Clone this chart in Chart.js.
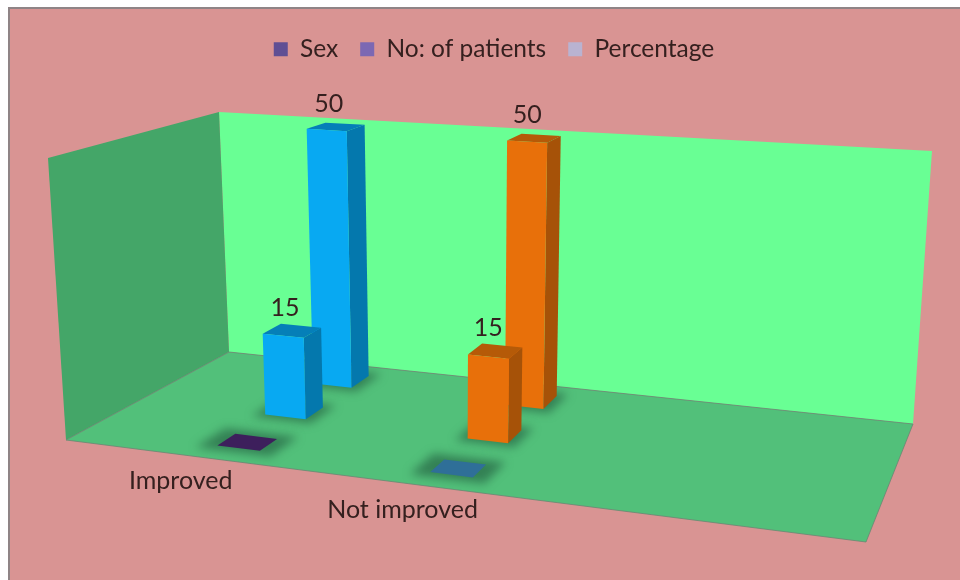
<!DOCTYPE html>
<html>
<head>
<meta charset="utf-8">
<title>Outcome by group</title>
<script src="https://cdn.jsdelivr.net/npm/chart.js@4"></script>
<style>
  html, body { margin: 0; background: #fff; }
  #frame {
    position: absolute; left: 8px; top: 7px; width: 950px; height: 571px;
    background: #d99493; border-left: 2px solid #8f8486; border-top: 2px solid #8f8486;
  }
  #chart { position: absolute; left: 0; top: 0; }
</style>
</head>
<body>
<div id="frame"></div>
<canvas id="chart" width="960" height="580"></canvas>
<script>
const categories = ['Improved', 'Not improved'];
const seriesNames = ['Sex', 'No: of patients', 'Percentage'];
const sexValues = [0, 0];
const patientValues = [15, 15];
const percentValues = [50, 50];
const legendColors = ['#5f4f94', '#7c68b3', '#b9b3d1'];

// front, side and top shade of each category's columns
const columnShades = [
  { front: '#08a9f2', side: '#0478ad', top: '#057fb8' },
  { front: '#e8700a', side: '#a65208', top: '#b55a08' }
];
const sexFloorColors = ['#3d1f5c', '#2f6f98'];

const textColor = '#35201f';

// corners of the 3D room: f/b = front/back, l/r = left/right, 0/1 = floor/ceiling
const room = {
  fl0: [66, 440], fr0: [866, 542], bl0: [229, 352], br0: [913, 424],
  fl1: [48, 158], fr1: [888, 217], bl1: [219, 112], br1: [932, 151]
};

// where the category axis sits along the floor width
const floorStart = 0.0585;
const floorSpan = 0.542;
const columnDepth = 0.125;

function lerp(a, b, t) {
  return [a[0] + (b[0] - a[0]) * t, a[1] + (b[1] - a[1]) * t];
}

// u: left to right, v: floor to ceiling, w: front to back
function project(u, v, w) {
  const f0 = lerp(room.fl0, room.fr0, u);
  const b0 = lerp(room.bl0, room.br0, u);
  const f1 = lerp(room.fl1, room.fr1, u);
  const b1 = lerp(room.bl1, room.br1, u);
  return lerp(lerp(f0, b0, w), lerp(f1, b1, w), v);
}

function fillPoly(ctx, points, color) {
  ctx.beginPath();
  points.forEach((p, i) => (i ? ctx.lineTo(p[0], p[1]) : ctx.moveTo(p[0], p[1])));
  ctx.closePath();
  ctx.fillStyle = color;
  ctx.fill();
}

// turn a bar element of the library into room coordinates
function barBox(chart, bar, datasetIndex) {
  const area = chart.chartArea;
  const u = floorStart + floorSpan * (bar.x - area.left) / area.width;
  const halfU = floorSpan * bar.width / area.width / 2;
  const w = (datasetIndex + 0.5) / 3 + 0.02;
  return {
    u0: u - halfU, u1: u + halfU,
    w0: w - columnDepth / 2, w1: w + columnDepth / 2,
    v: (bar.base - bar.y) / area.height,
    u: u, w: w
  };
}

function drawWalls(ctx) {
  const r = room;
  fillPoly(ctx, [r.bl1, r.br1, r.br0, r.bl0], '#69ff94');
  fillPoly(ctx, [r.fl1, r.bl1, r.bl0, r.fl0], '#44a668');
  fillPoly(ctx, [r.fl0, r.bl0, r.br0, r.fr0], '#52c07a');
  ctx.strokeStyle = 'rgba(105,135,115,0.8)';
  ctx.lineWidth = 1;
  ctx.beginPath();
  [r.fl0, r.fr0, r.br0, r.bl0].forEach((p, i) => (i ? ctx.lineTo(p[0], p[1]) : ctx.moveTo(p[0], p[1])));
  ctx.closePath();
  ctx.stroke();
}

function drawShadow(ctx, b, flat) {
  const mu = flat ? 0.02 : 0.012;
  const mw = flat ? 0.04 : 0.03;
  ctx.save();
  ctx.filter = 'blur(5px)';
  fillPoly(ctx, [
    project(b.u0 - mu, 0, b.w0 - mw), project(b.u1 + mu, 0, b.w0 - mw),
    project(b.u1 + mu, 0, b.w1 + mw), project(b.u0 - mu, 0, b.w1 + mw)
  ], 'rgba(35,95,65,0.65)');
  ctx.restore();
}

function drawColumn(ctx, b, shade) {
  const p = (u, v, w) => project(u, v, w);
  fillPoly(ctx, [p(b.u1, 0, b.w0), p(b.u1, 0, b.w1), p(b.u1, b.v, b.w1), p(b.u1, b.v, b.w0)], shade.side);
  fillPoly(ctx, [p(b.u0, b.v, b.w0), p(b.u1, b.v, b.w0), p(b.u1, b.v, b.w1), p(b.u0, b.v, b.w1)], shade.top);
  fillPoly(ctx, [p(b.u0, 0, b.w0), p(b.u1, 0, b.w0), p(b.u1, b.v, b.w0), p(b.u0, b.v, b.w0)], shade.front);
}

// draws the room and the columns in place of the library's flat bars
const room3d = {
  id: 'room3d',
  beforeDatasetsDraw(chart) {
    const ctx = chart.ctx;
    drawWalls(ctx);

    const xScale = chart.scales.x;
    const boxes = [];
    chart.data.datasets.forEach((ds, d) => {
      chart.getDatasetMeta(d).data.forEach((bar, i) => {
        boxes.push({ d, i, value: ds.data[i], box: barBox(chart, bar, d) });
      });
    });

    boxes.forEach(o => drawShadow(ctx, o.box, o.value === 0));

    // back rows first so the nearer columns cover them
    boxes.sort((a, b) => b.d - a.d);
    boxes.forEach(o => {
      if (o.value === 0) {
        const b = o.box;
        fillPoly(ctx, [project(b.u0, 0, b.w0), project(b.u1, 0, b.w0), project(b.u1, 0, b.w1), project(b.u0, 0, b.w1)], sexFloorColors[o.i]);
      } else {
        drawColumn(ctx, o.box, columnShades[o.i]);
      }
    });

    ctx.font = '25px Lato';
    ctx.textAlign = 'center';
    ctx.textBaseline = 'middle';
    ctx.fillStyle = textColor;
    boxes.forEach(o => {
      if (o.value === 0) return;
      const top = project(o.box.u, o.box.v, o.box.w);
      ctx.fillText(String(o.value), top[0] - 7, top[1] - 23);
    });

    // category names under the front edge of the floor
    categories.forEach((name, i) => {
      const u = floorStart + floorSpan * (xScale.getPixelForValue(i) - chart.chartArea.left) / chart.chartArea.width;
      const pos = project(u, 0, -0.16);
      ctx.fillText(xScale.getLabelForValue(i), pos[0] - 18, pos[1] + 6);
    });
    return false;
  }
};

new Chart(document.getElementById('chart'), {
  type: 'bar',
  data: {
    labels: categories,
    datasets: [
      { label: seriesNames[0], data: sexValues, backgroundColor: legendColors[0] },
      { label: seriesNames[1], data: patientValues, backgroundColor: legendColors[1] },
      { label: seriesNames[2], data: percentValues, backgroundColor: legendColors[2] }
    ]
  },
  options: {
    responsive: false,
    animation: false,
    layout: { padding: { left: 28, top: 15 } },
    datasets: { bar: { grouped: false, categoryPercentage: 1, barPercentage: 0.2 } },
    scales: {
      x: { display: false },
      y: { display: false, min: 0, max: 50 }
    },
    plugins: {
      tooltip: { enabled: false },
      legend: {
        position: 'top',
        labels: {
          boxWidth: 14, boxHeight: 14, padding: 22,
          color: textColor,
          font: { family: 'Lato', size: 24.5 }
        }
      }
    }
  },
  plugins: [room3d]
});
</script>
</body>
</html>
